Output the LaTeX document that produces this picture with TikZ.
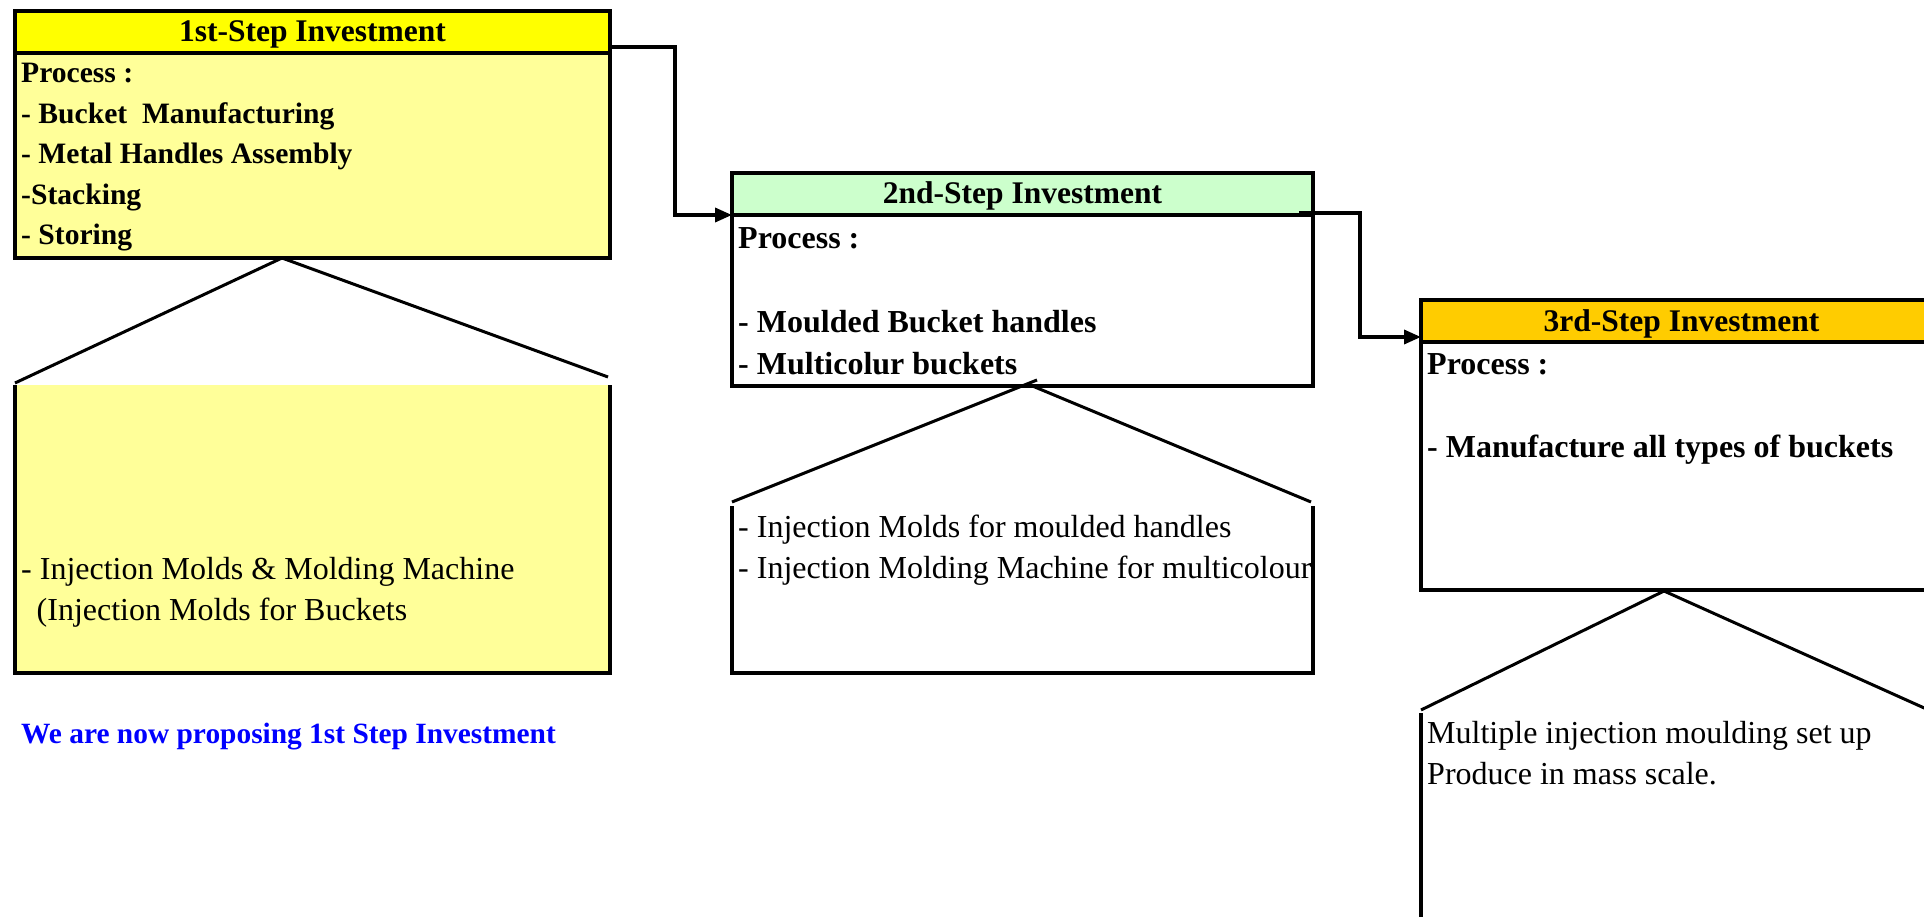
\documentclass[tikz,border=0pt]{standalone}
\usepackage{fontspec}
\setmainfont{Liberation Serif}
\usepackage{xcolor}
\usetikzlibrary{arrows.meta, positioning}
\definecolor{hdyellow}{RGB}{255, 255, 0}
\definecolor{paleyellow}{RGB}{255, 255, 153}
\definecolor{hdgreen}{RGB}{204, 255, 204}
\definecolor{hdgold}{RGB}{255, 204, 0}
\definecolor{noteblue}{RGB}{0, 0, 255}

\begin{document}
\begin{tikzpicture}[
    x=1pt, y=-1pt,                    % one unit = 1pt, y runs downwards
    head/.style={rectangle, draw=black, line width=4pt,
                 outer sep=0pt, inner sep=0pt,
                 minimum height=42pt, text height=20pt, text depth=0pt,
                 font=\fontsize{31.5}{36}\selectfont\bfseries},
    body/.style={rectangle, draw=black, line width=4pt,
                 outer sep=0pt, inner sep=0pt},
    lower/.style={rectangle, outer sep=0pt, inner sep=0pt,
                  anchor=north west},
    % multi-line texts sit on the baseline of their last line
    items/.style={anchor=base west, align=left, inner sep=0pt,
                  font=\fontsize{32}{41.5}\selectfont\bfseries},
    plain/.style={anchor=base west, align=left, inner sep=0pt,
                  font=\fontsize{32}{41}\selectfont},
    side/.style={line width=4pt},
    roof/.style={line width=3pt},
    arrow/.style={-{Triangle[length=17pt, width=14pt]}, line width=3.5pt}
]
\useasboundingbox (0,0) rectangle (1924,917);
\clip (0,0) rectangle (1924,917);

% first step
\node (head1) [head, fill=hdyellow, minimum width=595pt,
               anchor=north west] at (15,11) {1st-Step Investment};
\node (body1) [body, fill=paleyellow, minimum width=595pt,
               minimum height=205pt, below=0pt of head1] {};
\node (list1) [items, font=\fontsize{29.6}{40.5}\selectfont\bfseries]
      at (21,245) {Process :\\- Bucket~ Manufacturing\\- Metal Handles Assembly\\-Stacking\\- Storing};

\node (low1) [lower, fill=paleyellow, minimum width=595pt,
              minimum height=288pt] at (15,385) {};
\draw [side] (low1.north west) -- (low1.south west)
             -- (low1.south east) -- (low1.north east);
\node (parts1) [plain] at (21,620)
      {- Injection Molds \& Molding Machine\\\hspace*{15.5pt}(Injection Molds for Buckets};

\coordinate (top1)   at (282,258);
\coordinate (eave1l) at (15,383);
\coordinate (eave1r) at (608,377);
\draw [roof] (eave1l) -- (top1) -- (eave1r);

\node (note) [anchor=base west, inner sep=0pt, text=noteblue,
              font=\fontsize{29.4}{34}\selectfont\bfseries]
      at (21,743) {We are now proposing 1st Step Investment};

% second step
\node (head2) [head, fill=hdgreen, minimum width=581pt,
               anchor=north west] at (732,173) {2nd-Step Investment};
\node (body2) [body, fill=white, minimum width=581pt,
               minimum height=171pt, below=0pt of head2] {};
\node (list2) [items, font=\fontsize{32}{42}\selectfont\bfseries]
      at (738,374) {Process :\\[42pt]- Moulded Bucket handles\\- Multicolur buckets};

\node (low2) [lower, minimum width=581pt, minimum height=167pt] at (732,506) {};
\draw [side] (low2.north west) -- (low2.south west)
             -- (low2.south east) -- (low2.north east);
\node (parts2) [plain] at (738,578)
      {- Injection Molds for moulded handles\\- Injection Molding Machine for multicolour};

\coordinate (top2)   at (1030,385);
\coordinate (peak2)  at (1037,380);
\coordinate (eave2l) at (732,502);
\coordinate (eave2r) at (1311,502);
\draw [roof] (eave2l) -- (peak2);
\draw [roof] (top2) -- (eave2r);

% third step
\node (head3) [head, fill=hdgold, minimum width=521pt,
               anchor=north west] at (1421,300) {3rd-Step Investment};
\node (body3) [body, fill=white, minimum width=521pt,
               minimum height=248pt, below=0pt of head3] {};
\node (list3) [items] at (1427,457)
      {Process :\\[41.5pt]- Manufacture all types of buckets};

\node (low3) [lower, minimum width=521pt, minimum height=260pt] at (1421,713) {};
\draw [side] (low3.north west) -- (low3.south west)
             -- (low3.south east) -- (low3.north east);
\node (parts3) [plain] at (1427,784)
      {Multiple injection moulding set up\\Produce in mass scale.};

\coordinate (top3)   at (1664,591);
\coordinate (eave3l) at (1421,710);
\coordinate (eave3r) at (1942,716);
\draw [roof] (eave3l) -- (top3) -- (eave3r);

% links between the steps
\coordinate (out1) at (610,47);
\coordinate (out2) at (1299,213);
\coordinate (in3)  at (1421,337);
\draw [arrow] (out1) -- ++(65,0) |- (head2.south west);
\draw [arrow] (out2) -- ++(61,0) |- (in3);
\end{tikzpicture}
\end{document}
